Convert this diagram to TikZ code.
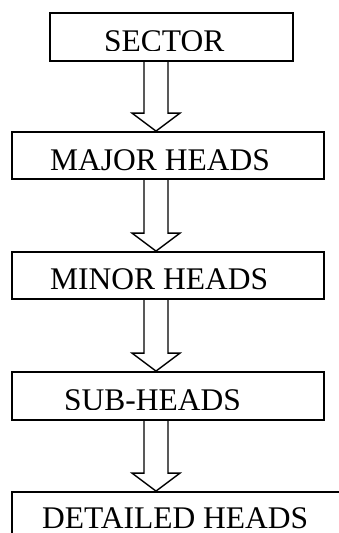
\documentclass[tikz,border=0pt]{standalone}
\usepackage{fontspec}
\setmainfont{Liberation Serif}
\usetikzlibrary{calc}
\newcommand\hollowarrow[2]{%
  \draw[arr] ($(#1.south -| ax)+(-12,0)$) -- ($(#2.north -| ax)+(-12,-18)$)
    -- ($(#2.north -| ax)+(-24,-18)$) -- (#2.north -| ax)
    -- ($(#2.north -| ax)+(24,-18)$) -- ($(#2.north -| ax)+(12,-18)$)
    -- ($(#1.south -| ax)+(12,0)$);}
\begin{document}
\begin{tikzpicture}[x=1pt,y=-1pt,
  box/.style={draw, line width=1.8pt, rectangle, inner sep=0pt},
  arr/.style={draw, line width=1.4pt, line join=miter},
  lbl/.style={inner sep=0pt, anchor=base west, font=\fontsize{31.5}{36}\selectfont}]
\useasboundingbox (0,0) rectangle (339,533);
\clip (0,0) rectangle (339,533);
\fill[white] (0,0) rectangle (339,533);
\coordinate (ax) at (156,0);
\node[box, minimum width=243pt, minimum height=48pt] (sec) at (171.5,37) {};
\node[box, minimum width=312pt, minimum height=47pt] (maj) at (168,155.5) {};
\node[box, minimum width=312pt, minimum height=47pt] (mnr) at (168,275.5) {};
\node[box, minimum width=312pt, minimum height=48pt] (sub) at (168,396) {};
\node[box, minimum width=400pt, minimum height=80pt] (det) at (212,532) {};
\begin{scope}
  \clip (50,13) rectangle (293,50);
  \node[lbl] (tsec) at (104,51) {SECTOR};
\end{scope}
\begin{scope}
  \clip (12,132) rectangle (324,170);
  \node[lbl] (tmaj) at (50,170.5) {MAJOR HEADS};
\end{scope}
\begin{scope}
  \clip (12,252) rectangle (324,289);
  \node[lbl] (tmnr) at (50,289.5) {MINOR HEADS};
\end{scope}
\begin{scope}
  \clip (12,372) rectangle (324,409);
  \node[lbl] (tsub) at (64,410) {SUB-HEADS};
\end{scope}
\node[lbl] (tdet) at (42,528) {DETAILED HEADS};
\hollowarrow{sec}{maj}
\hollowarrow{maj}{mnr}
\hollowarrow{mnr}{sub}
\hollowarrow{sub}{det}
\end{tikzpicture}
\end{document}
